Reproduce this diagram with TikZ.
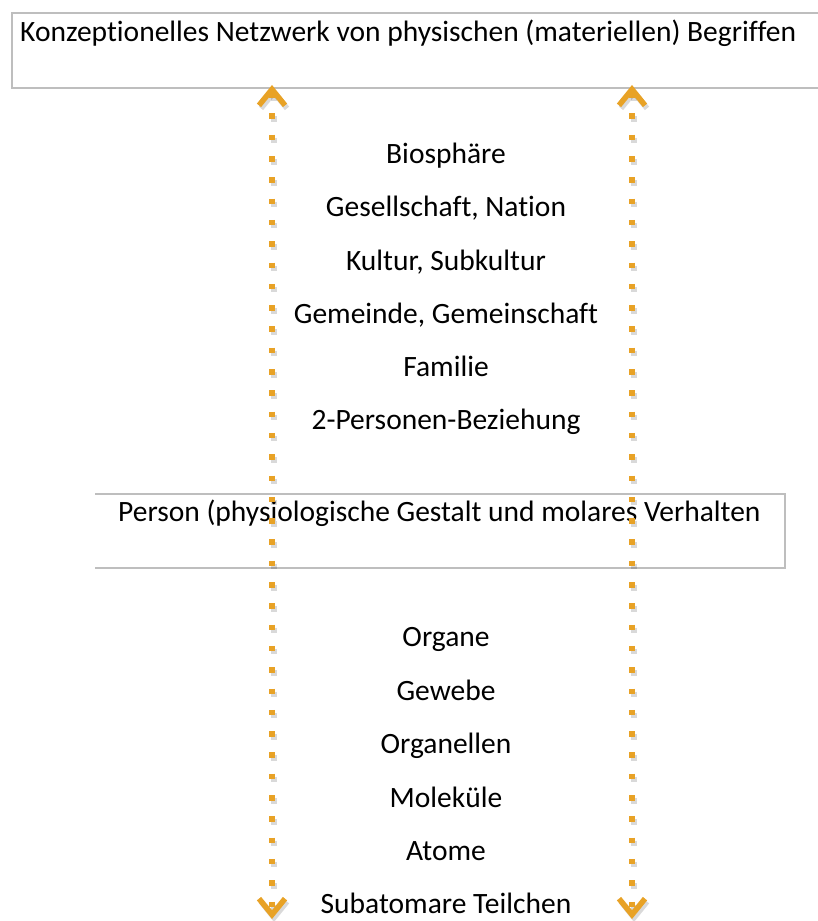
\documentclass[tikz,border=0pt]{standalone}
\usepackage{fontspec}
\setmainfont[Ligatures={NoCommon}]{Carlito}
\usepackage{xcolor}
\usetikzlibrary{arrows.meta, positioning}
\definecolor{ArrowGold}{RGB}{232,162,38}
\definecolor{FrameGray}{RGB}{190,190,190}

\begin{document}
\begin{tikzpicture}[x=1pt, y=-1pt,
            level/.style={font=\fontsize{29.5}{34}\selectfont, inner sep=0pt, text height=20pt, text depth=6pt},
            frame/.style={draw=FrameGray, line width=2pt},
            link/.style={ArrowGold, line width=5.5pt, dash pattern=on 5.5pt off 15.8pt,
                {Straight Barb[length=16pt, width=26pt, line width=5.5pt]}-{Straight Barb[length=16pt, width=26pt, line width=5.5pt]}},
            linkshade/.style={link, draw=black, draw opacity=0.15}
        ]
        \useasboundingbox (0,0) rectangle (818,921);

        % The Boxes
        \draw[frame] (830,13) -| (12,88) -- (830,88);
        \draw[frame] (95,494) -| (785,568) -- (95,568);
        \node[level, anchor=west] (network) at (20,34) {Konzeptionelles Netzwerk von physischen (materiellen) Begriffen};
        \node[level, anchor=west] (person) at (118,514) {Person (physiologische Gestalt und molares Verhalten};

        % Levels above
        \node[level] (biosphere) at (446,156) {Biosphäre};
        \node[level] (society) at (446,209) {Gesellschaft, Nation};
        \node[level] (culture) at (446,263) {Kultur, Subkultur};
        \node[level] (community) at (446,316) {Gemeinde, Gemeinschaft};
        \node[level] (family) at (446,369) {Familie};
        \node[level] (couple) at (446,422) {2-Personen-Beziehung};

        % Levels below
        \node[level] (organs) at (446,639) {Organe};
        \node[level] (tissue) at (446,693) {Gewebe};
        \node[level] (organelles) at (446,746) {Organellen};
        \node[level] (molecules) at (446,800) {Moleküle};
        \node[level] (atoms) at (446,853) {Atome};
        \node[level] (particles) at (446,906) {Subatomare Teilchen};

        % Arrows
        \coordinate (lt) at (272,85);
        \coordinate (lb) at (272,919);
        \coordinate (rt) at (632,85);
        \coordinate (rb) at (632,919);
        \coordinate (lts) at (274,88);
        \coordinate (lbs) at (274,922);
        \coordinate (rts) at (634,88);
        \coordinate (rbs) at (634,922);
        \draw[linkshade] (lts) -- (lbs);
        \draw[linkshade] (rts) -- (rbs);
        \draw[link] (lt) -- (lb);
        \draw[link] (rt) -- (rb);

        \end{tikzpicture}
\end{document}
